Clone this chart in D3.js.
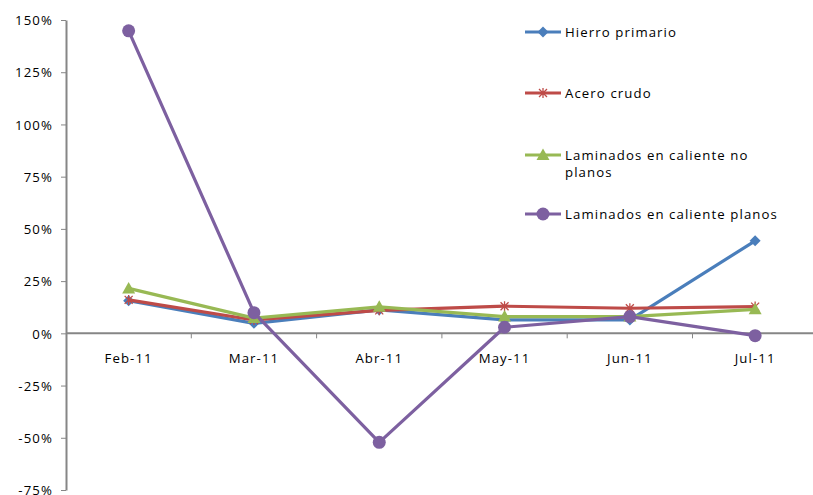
<!DOCTYPE html>
<html>
<head>
<meta charset="utf-8">
<script src="https://cdn.jsdelivr.net/npm/d3@7"></script>
<style>
  html, body { margin: 0; padding: 0; background: #fff; }
  svg { display: block; }
</style>
</head>
<body>
<svg id="chart" width="813" height="495"></svg>
<script>
// Monthly variation by product line
const months = ["Feb-11", "Mar-11", "Abr-11", "May-11", "Jun-11", "Jul-11"];
const hierroPrimario = [15.6, 4.8, 11.2, 6.4, 6.4, 44.3];
const aceroCrudo = [16.0, 6.4, 11.0, 13.0, 12.0, 12.8];
const laminadosNoPlanos = [21.5, 7.3, 12.7, 8.0, 8.0, 11.5];
const laminadosPlanos = [144.8, 9.9, -52.2, 2.9, 8.0, -1.1];
const yTicks = [-75, -50, -25, 0, 25, 50, 75, 100, 125, 150];

const series = [
  { name: "Hierro primario", values: hierroPrimario, color: "#4A7EBB", marker: "diamond" },
  { name: "Acero crudo", values: aceroCrudo, color: "#BE4B48", marker: "star" },
  { name: "Laminados en caliente no planos", lines: ["Laminados en caliente no", "planos"], values: laminadosNoPlanos, color: "#98B954", marker: "triangle" },
  { name: "Laminados en caliente planos", values: laminadosPlanos, color: "#7D60A0", marker: "circle" }
];

const svg = d3.select("#chart");
const font = "'Open Sans', sans-serif";
const fontSize = 13.2;
const spacing = 1.1;
const axisColor = "#868686";

const x0 = 66, bandW = 125.3;
const x = d3.scaleBand().domain(months).range([x0, x0 + bandW * months.length]).paddingInner(0).paddingOuter(0);
const y = d3.scaleLinear().domain([-75, 150]).range([490, 20]);

const root = svg.append("g");

// Y axis
const yAxis = d3.axisLeft(y).tickValues(yTicks).tickFormat(d => d + "%").tickSize(5).tickSizeOuter(0);
const gy = root.append("g").attr("transform", `translate(${x0},0)`).call(yAxis);
gy.select(".domain").attr("stroke", axisColor).attr("stroke-width", 2);
gy.selectAll(".tick line").attr("stroke", axisColor).attr("stroke-width", 1);
gy.selectAll(".tick text").attr("font-family", font).attr("font-size", fontSize)
  .attr("letter-spacing", spacing).attr("fill", "#000").attr("x", -13).attr("dy", "0.36em");

// X axis at zero with ticks between categories
const gx = root.append("g").attr("transform", `translate(0,${y(0)})`);
gx.append("line").attr("x1", x0).attr("x2", 813).attr("stroke", axisColor).attr("stroke-width", 2);
const boundaries = months.slice(1).map(m => x(m));
gx.selectAll("line.tk").data(boundaries).join("line").attr("class", "tk")
  .attr("x1", d => d).attr("x2", d => d).attr("y1", 0).attr("y2", 5)
  .attr("stroke", axisColor).attr("stroke-width", 1);
gx.selectAll("text").data(months).join("text")
  .attr("x", d => x(d) + x.bandwidth() / 2).attr("y", 30)
  .attr("text-anchor", "middle").attr("font-family", font).attr("font-size", fontSize)
  .attr("letter-spacing", spacing).attr("fill", "#000")
  .text(d => d);

function drawMarker(g, type, color) {
  if (type === "diamond") {
    g.append("path").attr("d", "M0,-5.5L5.5,0L0,5.5L-5.5,0Z").attr("fill", color);
  } else if (type === "star") {
    g.append("path").attr("d", "M-4,-4L4,4M-4,4L4,-4M0,-5L0,5").attr("stroke", color).attr("stroke-width", 1.3).attr("fill", "none");
  } else if (type === "triangle") {
    g.append("path").attr("d", "M0,-6.5L6.5,5L-6.5,5Z").attr("fill", color);
  } else {
    g.append("circle").attr("r", 6.5).attr("fill", color);
  }
}

const line = d3.line().x((d, i) => x(months[i]) + x.bandwidth() / 2).y(d => y(d));

series.forEach(s => {
  const g = root.append("g");
  g.append("path").attr("d", line(s.values)).attr("fill", "none")
    .attr("stroke", s.color).attr("stroke-width", 3.2).attr("stroke-linejoin", "round");
  s.values.forEach((v, i) => {
    const m = g.append("g").attr("transform", `translate(${x(months[i]) + x.bandwidth() / 2},${y(v)})`);
    drawMarker(m, s.marker, s.color);
  });
});

// Legend
const legendRows = [32, 93, 155, 214];
series.forEach((s, i) => {
  const g = root.append("g").attr("transform", `translate(525,${legendRows[i]})`);
  g.append("line").attr("x1", 0).attr("x2", 36).attr("stroke", s.color).attr("stroke-width", 3);
  const m = g.append("g").attr("transform", "translate(18,0)");
  drawMarker(m, s.marker, s.color);
  const t = g.append("text").attr("x", 40).attr("y", 0)
    .attr("font-family", font).attr("font-size", fontSize).attr("letter-spacing", spacing).attr("fill", "#000");
  const lines = s.lines || [s.name];
  lines.forEach((l, k) => t.append("tspan").attr("x", 40).attr("dy", k === 0 ? "0.36em" : "1.3em").text(l));
});
</script>
</body>
</html>
